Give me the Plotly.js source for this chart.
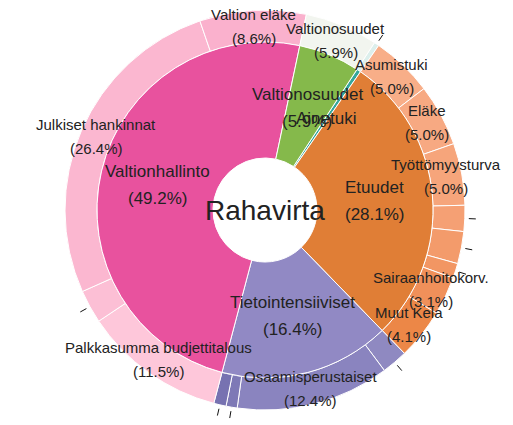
<!DOCTYPE html>
<html><head><meta charset="utf-8">
<script src="https://cdn.plot.ly/plotly-3.0.1.min.js"></script>
<style>html,body{margin:0;padding:0;background:#fff}#chart{width:513px;height:425px}</style>
</head><body><div id="chart"></div>
<script>
// ---------------- DATA ----------------
const rootLabel = "Rahavirta";
const innerLabels = ["Ainetuki", "Etuudet", "Tietointensiiviset", "Valtionhallinto", "Valtionosuudet"];
const innerValues = [0.4, 28.1, 16.4, 49.2, 5.9];

const outerLabels = [
  "Ainetuki",
  "Asumistuki", "Eläke", "Työttömyysturva", "Toimeentulotuki", "Lapsilisä", "Opintotuki", "Sairaanhoitokorv.", "Muut Kela",
  "Ohjelmistopalvelut", "Osaamisperustaiset", "Laitteet", "Tietoliikenne",
  "Palkkasumma budjettitalous", "Muu palkkasumma", "Julkiset hankinnat", "Valtion eläke",
  "Valtionosuudet "
];
const outerParents = [
  "Ainetuki",
  "Etuudet", "Etuudet", "Etuudet", "Etuudet", "Etuudet", "Etuudet", "Etuudet", "Etuudet",
  "Tietointensiiviset", "Tietointensiiviset", "Tietointensiiviset", "Tietointensiiviset",
  "Valtionhallinto", "Valtionhallinto", "Valtionhallinto", "Valtionhallinto",
  "Valtionosuudet"
];
const outerValues = [
  0.4,
  5.0, 5.0, 5.0, 2.1, 2.6, 1.2, 3.1, 4.1,
  2.1, 12.4, 0.9, 1.0,
  11.5, 2.7, 26.4, 8.6,
  5.9
];

// ---------------- STYLE / LAYOUT ----------------
const W = 513, H = 425;
const CX = 265, CY = 210;          // centre in px
const R0 = 52, R1 = 168, R2 = 200; // hole, inner ring, outer ring radii
const ROTATION = 33.2;
const FONT = "Liberation Sans, Arial, sans-serif";
const TXT = "#222";

const innerColorMap = {
  "Ainetuki": "#35A79C",
  "Etuudet": "#E07E36",
  "Tietointensiiviset": "#9189C4",
  "Valtionhallinto": "#E8529E",
  "Valtionosuudet": "#85B94B"
};
const outerColorList = [
  "#DCEFEC",
  "#F8AE88", "#F7A982", "#F6A57B", "#F5A074", "#F39B6B", "#F29663", "#F0905A", "#EC8747",
  "#8F89C1", "#8A84BF", "#7E79B6", "#7772B1",
  "#FEC7DA", "#FCBFD5", "#FBB7D0", "#FAB1CD",
  "#F2F5EF"
];

function sliceAngles(values) {
  const tot = values.reduce((a, b) => a + b, 0);
  let c = 0;
  return values.map(v => {
    const a0 = ROTATION + c / tot * 360; c += v;
    const a1 = ROTATION + c / tot * 360;
    return { a0, a1, mid: (a0 + a1) / 2, pct: v / tot * 100 };
  });
}
function polar(r, deg) {
  const t = deg * Math.PI / 180;
  return [CX + r * Math.sin(t), CY - r * Math.cos(t)];
}
const px2x = x => x / W;
const px2y = y => 1 - y / H;

const annotations = [];
const shapes = [];
function addText(x, y, text, size) {
  annotations.push({
    xref: "paper", yref: "paper", x: px2x(x), y: px2y(y), text: text,
    showarrow: false, xanchor: "center", yanchor: "middle",
    font: { family: FONT, size: size, color: TXT }
  });
}

// inner labels
const innerAng = sliceAngles(innerValues);
innerAng.forEach((s, i) => {
  const [x, y] = polar((R0 + R1) / 2, s.mid);
  if (s.pct >= 1) {
    addText(x, y - 13.5, innerLabels[i], 17);
    addText(x, y + 13.5, "(" + s.pct.toFixed(1) + "%)", 17);
  } else {
    addText(x, y, innerLabels[i], 17);
  }
});

// outer labels / ticks
const outerAng = sliceAngles(outerValues);
outerAng.forEach((s, i) => {
  if (s.pct >= 3) {
    const [x, y] = polar((R1 + R2) / 2, s.mid);
    addText(x, y - 12, outerLabels[i].trim(), 15);
    addText(x, y + 12, "(" + s.pct.toFixed(1) + "%)", 15);
  } else {
    const p0 = polar(R2 + 4, s.mid), p1 = polar(R2 + 11, s.mid);
    shapes.push({
      type: "line", xref: "paper", yref: "paper",
      x0: px2x(p0[0]), y0: px2y(p0[1]), x1: px2x(p1[0]), y1: px2y(p1[1]),
      line: { color: "#111", width: 1 }
    });
  }
});

// centre
addText(CX, CY, rootLabel, 28);

const traces = [
  {
    type: "pie", values: outerValues, labels: outerLabels, sort: false,
    direction: "clockwise", rotation: ROTATION, hole: R1 / R2,
    domain: { x: [px2x(CX - R2), px2x(CX + R2)], y: [px2y(CY + R2), px2y(CY - R2)] },
    marker: { colors: outerColorList, line: { color: "#ffffff", width: 1 } },
    textinfo: "none", hoverinfo: "label+percent", showlegend: false
  },
  {
    type: "pie", values: innerValues, labels: innerLabels, sort: false,
    direction: "clockwise", rotation: ROTATION, hole: R0 / R1,
    domain: { x: [px2x(CX - R1), px2x(CX + R1)], y: [px2y(CY + R1), px2y(CY - R1)] },
    marker: { colors: innerLabels.map(l => innerColorMap[l]), line: { color: "#ffffff", width: 1 } },
    textinfo: "none", hoverinfo: "label+percent", showlegend: false
  }
];

Plotly.newPlot("chart", traces, {
  width: W, height: H,
  margin: { l: 0, r: 0, t: 0, b: 0 },
  paper_bgcolor: "#fff",
  showlegend: false,
  annotations: annotations,
  shapes: shapes,
  font: { family: FONT }
}, { displayModeBar: false, staticPlot: true });
</script>
</body></html>
